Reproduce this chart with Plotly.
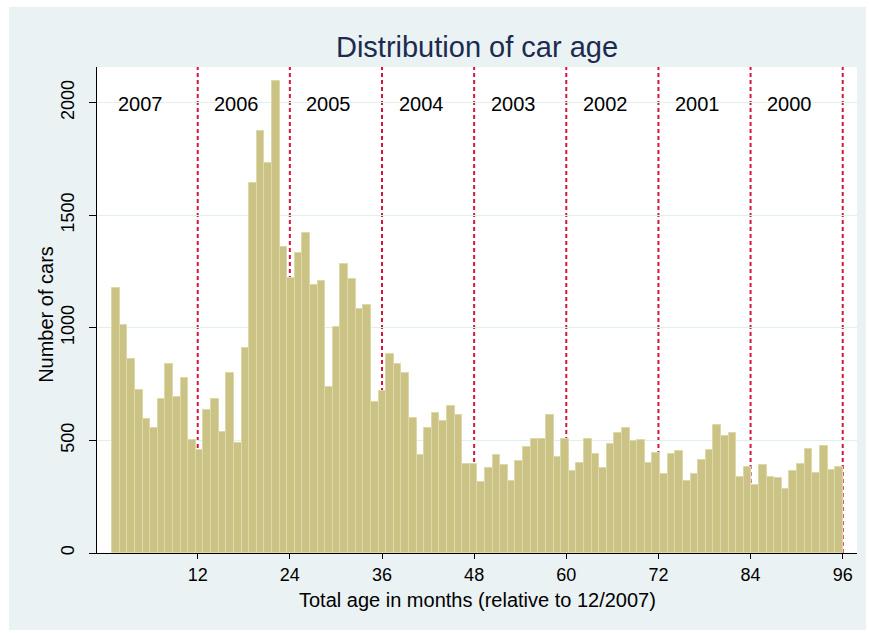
import plotly.graph_objects as go

# car counts per monthly bin, age 1..96 months (96 bins)
counts = [1176, 1013, 862, 726, 596, 557, 683, 839, 693, 776, 502, 458,
          633, 683, 539, 801, 489, 910, 1644, 1876, 1733, 2095, 1357,
          1221, 1332, 1421, 1188, 1207, 739, 1003, 1284, 1215, 1083, 1102,
          670, 721, 883, 840, 801, 601, 433, 553, 622, 584, 652, 615, 396, 396,
          314, 376, 433, 390, 320, 409, 471, 507, 507, 615, 428, 508,
          364, 400, 508, 439, 376, 483, 533, 553, 496, 502, 401, 446,
          351, 440, 452, 320, 351, 413, 458, 569, 521, 533, 339, 384,
          302, 390, 339, 333, 283, 364, 396, 464, 357, 476, 369, 384]
hist_start = 0.86
hist_end = 96
years = ['2007', '2006', '2005', '2004', '2003', '2002', '2001', '2000']
year_bounds = [12, 24, 36, 48, 60, 72, 84, 96]
x_ticks = [12, 24, 36, 48, 60, 72, 84, 96]
y_ticks = [0, 500, 1000, 1500, 2000]

bin_w = (hist_end - hist_start) / len(counts)
centers = [hist_start + (i + 0.5) * bin_w for i in range(len(counts))]

font = 'Liberation Sans, Arial, sans-serif'
bg = '#EAF2F3'
red = '#D3173F'

fig = go.Figure()
fig.add_trace(go.Bar(x=centers, y=counts, width=bin_w,
                     marker=dict(color='#CBC385', line=dict(color='#DCD8A8', width=1)),
                     showlegend=False))

shapes = []
for b in year_bounds:
    shapes.append(dict(type='line', xref='x', yref='paper', x0=b, x1=b, y0=0, y1=1,
                       line=dict(color=red, width=2, dash='4px,3px'), layer='below'))

# white border around the graph region
for x0, x1, y0, y1 in [(-0.2, 1.2, 1.124, 1.3), (-0.2, 1.2, -0.3, -0.1584),
                       (-0.2, -0.1158, -0.3, 1.3), (1.0118, 1.2, -0.3, 1.3)]:
    shapes.append(dict(type='rect', xref='paper', yref='paper', x0=x0, x1=x1, y0=y0, y1=y1,
                       fillcolor='white', line=dict(width=0), layer='below'))

annotations = []
label_x = [1.4] + [b + 1.9 for b in year_bounds[:-1]]
for lx, yr in zip(label_x, years):
    annotations.append(dict(x=lx, y=1992, xref='x', yref='y', text=yr, showarrow=False,
                            xanchor='left', yanchor='middle',
                            font=dict(family=font, size=20, color='black')))

annotations.append(dict(x=0.5, y=-0.0967, xref='paper', yref='paper',
                        text='Total age in months (relative to 12/2007)', showarrow=False,
                        xanchor='center', yanchor='middle',
                        font=dict(family=font, size=20, color='black')))
annotations.append(dict(x=-0.0671, y=0.49, xref='paper', yref='paper',
                        text='Number of cars', showarrow=False, textangle=-90,
                        xanchor='center', yanchor='middle',
                        font=dict(family=font, size=20, color='black')))

fig.update_layout(
    width=869, height=633,
    margin=dict(l=97, r=12, t=67, b=80),
    paper_bgcolor=bg, plot_bgcolor='white',
    title=dict(text='Distribution of car age', x=0.5, xref='paper', xanchor='center',
               y=0.9265, yref='container', yanchor='middle',
               font=dict(family=font, size=29, color='#1C2B4F')),
    shapes=shapes, annotations=annotations,
    bargap=0,
)
fig.update_xaxes(range=[-1.115, 97.86], tickvals=x_ticks, ticks='outside', ticklen=5,
                 tickcolor='black', showline=True, linecolor='black', linewidth=1,
                 showgrid=False, zeroline=False,
                 tickfont=dict(family=font, size=18, color='black'))
fig.update_yaxes(range=[0, 2158], tickvals=y_ticks, ticks='outside', ticklen=7,
                 tickcolor='black', showline=True, linecolor='black', linewidth=1,
                 showgrid=True, gridcolor='#E4EEF0', gridwidth=1, zeroline=False,
                 tickangle=-90, ticklabelstandoff=8,
                 tickfont=dict(family=font, size=18, color='black'))

# drop the default page margin so the figure sits at the window corner
fig.write_html("out.html", config={'displayModeBar': False},
               post_script="document.body.style.margin='0';document.body.style.overflow='hidden';")
